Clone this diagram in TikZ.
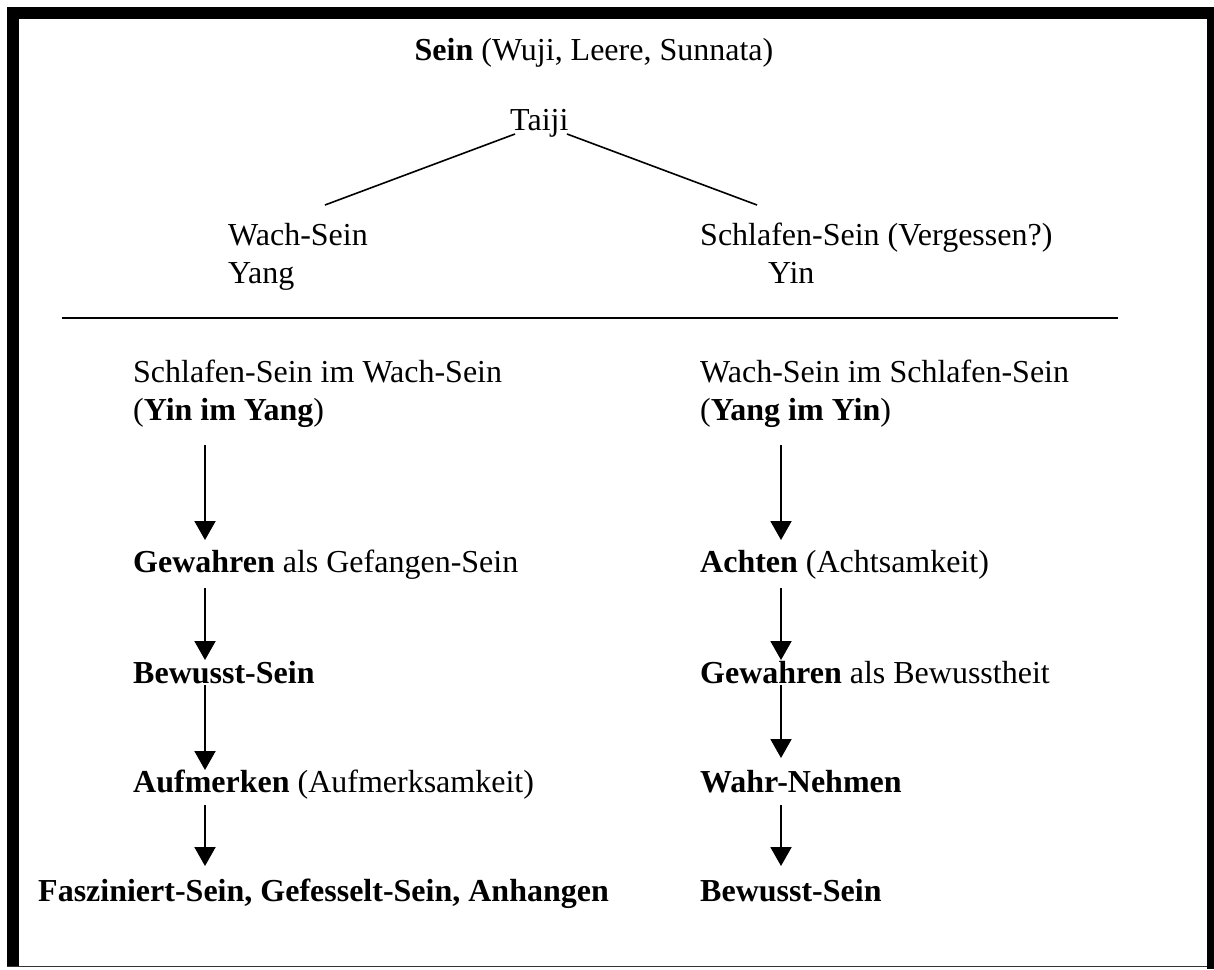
\documentclass[tikz,border=0pt]{standalone}
\usepackage{fontspec}
\setmainfont{Liberation Serif}
\usetikzlibrary{arrows.meta}
\tikzset{
  txt/.style={anchor=base west, inner sep=0pt, font=\fontsize{32}{37}\selectfont},
  arr/.style={line width=2pt, -{Triangle[width=21pt,length=19pt]}},
  thin line/.style={line width=1.6pt},
  frame/.style={fill=black, draw=none}
}
\begin{document}
\begin{tikzpicture}[x=1pt,y=-1pt]
\useasboundingbox (0,0) rectangle (1214,969);
% frame
\fill[frame] (7,7) rectangle (1214,19);
\fill[frame] (7,7) rectangle (19,967);
\fill[frame] (1207,7) rectangle (1214,969);
\draw[line width=1.5pt, black!80] (7,966.5) -- (1207,966.5);

% top part
\node[txt, anchor=base] (sein) at (594,60) {\textbf{Sein} (Wuji, Leere, Sunnata)};
\node[txt] (taiji) at (510,130) {Taiji};
\node[txt] (wach) at (228,245) {Wach-Sein};
\node[txt] (yang) at (228,283) {Yang};
\node[txt] (schlaf) at (700,245) {Schlafen-Sein (Vergessen?)};
\node[txt] (yin) at (768,283) {Yin};

\coordinate (tl) at (515,134);
\coordinate (tr) at (567,134);
\coordinate (wl) at (325,205);
\coordinate (sr) at (757,205);
\draw[thin line] (tl) -- (wl);
\draw[thin line] (tr) -- (sr);

% separator
\coordinate (sepL) at (62,318);
\coordinate (sepR) at (1118,318);
\draw[line width=2pt] (sepL) -- (sepR);

% left column
\node[txt] (l0) at (133,382) {Schlafen-Sein im Wach-Sein};
\node[txt] (l0b) at (133,420) {(\textbf{Yin im Yang})};
\node[txt] (l1) at (133,572) {\textbf{Gewahren} als Gefangen-Sein};
\node[txt] (l2) at (133,683) {\textbf{Bewusst-Sein}};
\node[txt] (l3) at (133,792) {\textbf{Aufmerken} (Aufmerksamkeit)};
\node[txt] (l4) at (38,901) {\textbf{Fasziniert-Sein, Gefesselt-Sein, Anhangen}};

% right column
\node[txt] (r0) at (700,382) {Wach-Sein im Schlafen-Sein};
\node[txt] (r0b) at (700,420) {(\textbf{Yang im Yin})};
\node[txt] (r1) at (700,572) {\textbf{Achten} (Achtsamkeit)};
\node[txt] (r2) at (700,683) {\textbf{Gewahren} als Bewusstheit};
\node[txt] (r3) at (700,792) {\textbf{Wahr-Nehmen}};
\node[txt] (r4) at (700,901) {\textbf{Bewusst-Sein}};

% arrow coordinates
\foreach \c/\x in {L/205,R/781}{
  \coordinate (\c1s) at (\x,445); \coordinate (\c1e) at (\x,540);
  \coordinate (\c2s) at (\x,588); \coordinate (\c2e) at (\x,660);
  \coordinate (\c3s) at (\x,685); \coordinate (\c3e) at (\x,770);
  \coordinate (\c4s) at (\x,805); \coordinate (\c4e) at (\x,866);
}
\coordinate (R3e) at (781,758);
\draw[arr] (L1s) -- (L1e);
\draw[arr] (L2s) -- (L2e);
\draw[arr] (L3s) -- (L3e);
\draw[arr] (L4s) -- (L4e);
\draw[arr] (R1s) -- (R1e);
\draw[arr] (R2s) -- (R2e);
\draw[arr] (R3s) -- (R3e);
\draw[arr] (R4s) -- (R4e);
\end{tikzpicture}
\end{document}
